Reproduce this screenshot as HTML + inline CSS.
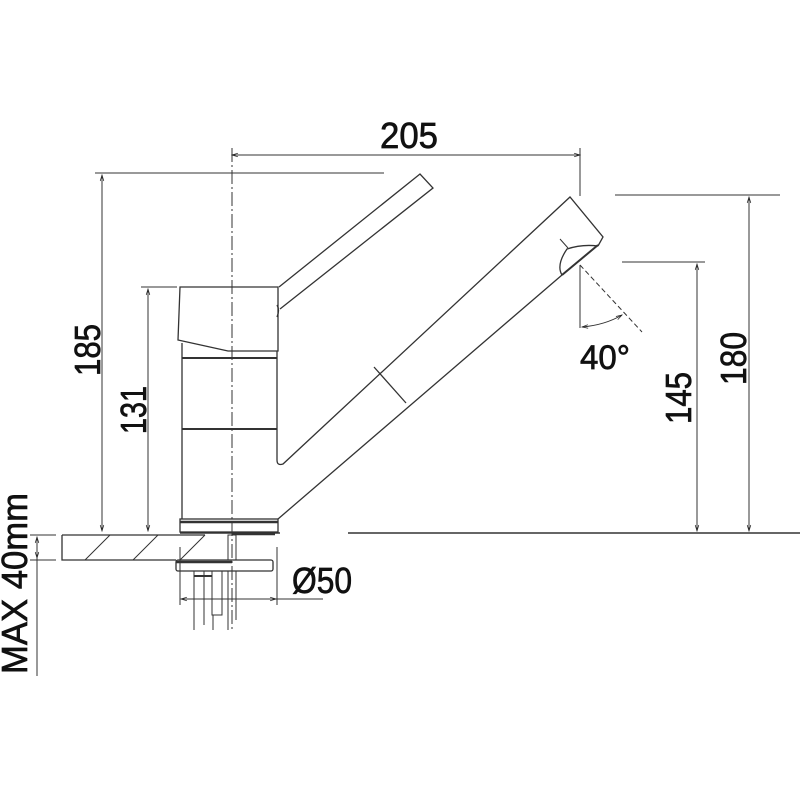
<!DOCTYPE html>
<html><head><meta charset="utf-8"><style>html,body{margin:0;padding:0;background:#fff}svg{display:block}</style></head>
<body>
<svg width="800" height="800" viewBox="0 0 800 800" xmlns="http://www.w3.org/2000/svg">
<defs>
<marker id="a" viewBox="0 0 10 10" refX="10" refY="5" markerWidth="8" markerHeight="6" orient="auto-start-reverse"><path d="M0,2 L10,5 L0,8" fill="none" stroke="#222" stroke-width="1.2"/></marker>
</defs>
<g stroke="#333" stroke-width="1.3" fill="none">
<line x1="232" y1="148" x2="232" y2="632" stroke-dasharray="14,3,2,3" stroke-width="1"/>
<line x1="232" y1="155" x2="580" y2="155" marker-start="url(#a)" marker-end="url(#a)" stroke-width="1"/>
<line x1="580" y1="148" x2="580" y2="196" stroke-width="1"/>
<line x1="95" y1="173" x2="384" y2="173" stroke-width="1"/>
<line x1="102" y1="175" x2="102" y2="531" marker-start="url(#a)" marker-end="url(#a)" stroke-width="1"/>
<line x1="141" y1="287" x2="177" y2="287" stroke-width="1"/>
<line x1="148" y1="289" x2="148" y2="531" marker-start="url(#a)" marker-end="url(#a)" stroke-width="1"/>
<path d="M180,287 L278,287 L278,351 L228,351 L178,340 Z"/>
<path d="M182,343 L182,519 M277,351 L277,460"/>
<line x1="182" y1="358" x2="277" y2="358" stroke-width="2"/>
<line x1="182" y1="429" x2="277" y2="429" stroke-width="2"/>
<path d="M277,305 q3,5 0,12"/>
<path d="M279,287 L420,174 L433,188 L280,309"/>
<path d="M277,460 q0,6 6,4 L570,197 L603,237 L598,246"/>
<path d="M278,519 L562,275"/>
<line x1="374" y1="367" x2="406" y2="403"/>
<path d="M562,275 L598,245" stroke-width="2"/>
<path d="M562,275 q-6,-10 5,-26 q15,-5 31,-3"/>
<line x1="560" y1="239" x2="568" y2="248" stroke-width="1"/>
<line x1="580" y1="265" x2="580" y2="328" stroke-width="1"/>
<line x1="580" y1="265" x2="642" y2="332" stroke-width="1" stroke-dasharray="5,3"/>
<path d="M582,327 Q605,325 622,315" stroke-width="1" marker-start="url(#a)" marker-end="url(#a)"/>
<line x1="615" y1="195" x2="780" y2="195" stroke-width="1"/>
<line x1="749" y1="197" x2="749" y2="531" marker-start="url(#a)" marker-end="url(#a)" stroke-width="1"/>
<line x1="622" y1="262" x2="705" y2="262" stroke-width="1"/>
<line x1="697" y1="264" x2="697" y2="531" marker-start="url(#a)" marker-end="url(#a)" stroke-width="1"/>
<line x1="348" y1="533" x2="800" y2="533" stroke-width="1.4"/>
<line x1="180" y1="533" x2="280" y2="533" stroke-width="1.4"/>
<rect x="180" y="519" width="98" height="13" stroke-width="1.3"/>
<line x1="180" y1="522" x2="278" y2="522" stroke-width="2.5"/>
<line x1="232" y1="534" x2="275" y2="534" stroke-width="2.5"/>
<path d="M62,535 L205,535 M62,535 L62,560 L176,560"/>
<path d="M85,560 L110,535 M133,560 L158,535 M180,560 L205,535" stroke-width="1"/>
<line x1="30" y1="535" x2="56" y2="535" stroke-width="1"/>
<line x1="30" y1="560" x2="56" y2="560" stroke-width="1"/>
<line x1="37" y1="537" x2="37" y2="558" stroke-width="1" marker-start="url(#a)" marker-end="url(#a)"/>
<line x1="37" y1="558" x2="37" y2="676" stroke-width="1"/>
<rect x="176" y="560" width="97" height="11" rx="2"/>
<line x1="176" y1="562" x2="232" y2="562" stroke-width="2.5"/>
<rect x="228" y="535" width="8" height="25" stroke-width="1"/>
<path d="M194,571 L194,630 M204,571 L204,625 M212,571 L212,615 L222,615 L222,571 M213,630 L213,615 M228,571 L228,630 M236,571 L236,620" stroke-width="1"/>
<line x1="194" y1="576" x2="212" y2="576" stroke-width="2"/>
<line x1="180" y1="547" x2="180" y2="605" stroke-width="1"/>
<line x1="277" y1="547" x2="277" y2="605" stroke-width="1"/>
<line x1="181" y1="599" x2="276" y2="599" stroke-width="1" marker-start="url(#a)" marker-end="url(#a)"/>
<line x1="276" y1="599" x2="323" y2="599" stroke-width="1"/>
</g>
<g font-family="Liberation Sans, Arial, sans-serif" font-size="36" fill="#111" stroke="#111" stroke-width="0.7">
<text x="380" y="148" textLength="58" lengthAdjust="spacingAndGlyphs">205</text>
<text x="292" y="593" textLength="60" lengthAdjust="spacingAndGlyphs">Ø50</text>
<text x="580" y="369" font-size="34" textLength="50" lengthAdjust="spacingAndGlyphs">40°</text>
<text transform="translate(100,376) rotate(-90)" textLength="52" lengthAdjust="spacingAndGlyphs">185</text>
<text transform="translate(146,434) rotate(-90)" textLength="48" lengthAdjust="spacingAndGlyphs">131</text>
<text transform="translate(691,424) rotate(-90)" textLength="52" lengthAdjust="spacingAndGlyphs">145</text>
<text transform="translate(746,385) rotate(-90)" textLength="53" lengthAdjust="spacingAndGlyphs">180</text>
<text transform="translate(27,674) rotate(-90)" textLength="181" lengthAdjust="spacingAndGlyphs">MAX 40mm</text>
</g>
</svg>
</body></html>
